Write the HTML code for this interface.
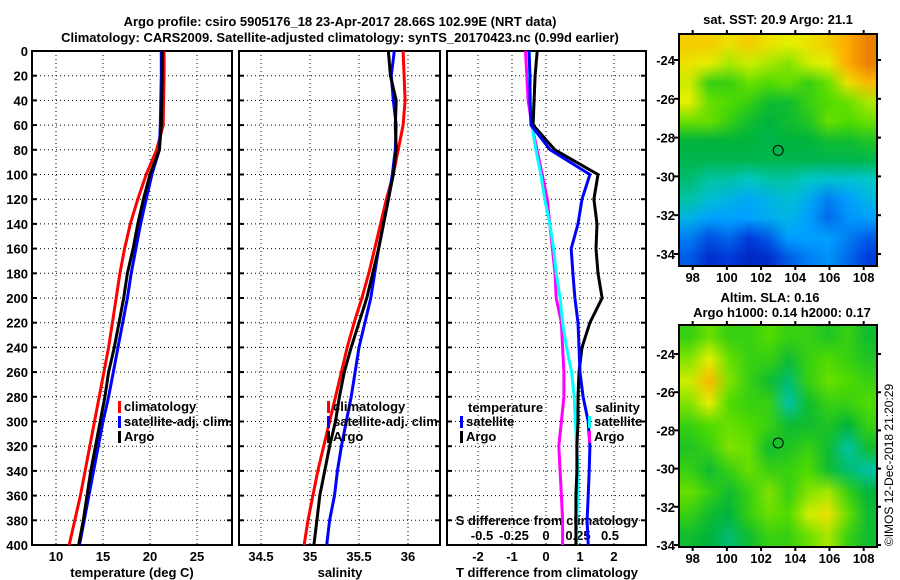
<!DOCTYPE html>
<html><head><meta charset="utf-8">
<style>
body{margin:0;background:#fff;width:900px;height:580px;overflow:hidden;font-family:"Liberation Sans",sans-serif;}
svg text{font-family:"Liberation Sans",sans-serif;font-weight:bold;font-size:13px;fill:#000;}
canvas{position:absolute;image-rendering:auto;}
</style></head><body>
<svg id="s" width="900" height="580" style="position:absolute;left:0;top:0"></svg>
<canvas id="m1" width="10" height="12" style="left:679px;top:34px;width:198px;height:232px"></canvas>
<canvas id="m2" width="10" height="10" style="left:679px;top:325px;width:198px;height:222px"></canvas>
<svg id="o" width="900" height="580" style="position:absolute;left:0;top:0"></svg>
<script>
const depths=[0,20,40,60,80,100,120,140,160,180,200,220,240,260,280,300,320,340,360,380,400];
const tempClim=[21.5,21.5,21.45,21.4,20.7,19.6,18.7,17.9,17.3,16.8,16.4,16.0,15.6,15.1,14.6,14.1,13.6,13.1,12.6,12.0,11.4];
const tempSat=[21.2,21.2,21.15,21.1,21.0,20.2,19.6,19.0,18.5,18.0,17.6,17.1,16.6,16.1,15.6,15.0,14.5,14.0,13.5,13.0,12.5];
const tempArgo=[21.3,21.3,21.25,21.2,21.0,20.0,19.3,18.7,18.2,17.6,17.2,16.7,16.2,15.6,15.2,14.7,14.2,13.7,13.3,12.9,12.4];
const salClim=[35.95,35.96,35.97,35.95,35.9,35.85,35.78,35.72,35.66,35.6,35.53,35.45,35.38,35.32,35.26,35.2,35.14,35.08,35.03,34.98,34.94];
const salSat=[35.86,35.83,35.85,35.88,35.87,35.84,35.8,35.75,35.7,35.66,35.62,35.56,35.5,35.46,35.42,35.37,35.32,35.28,35.25,35.2,35.17];
const salArgo=[35.8,35.82,35.88,35.87,35.88,35.85,35.8,35.75,35.7,35.64,35.58,35.5,35.42,35.35,35.3,35.26,35.2,35.15,35.1,35.07,35.04];
const dTSat=[-0.5,-0.47,-0.47,-0.44,0.12,1.29,1.06,0.94,0.74,0.79,0.85,0.94,0.97,1.0,1.09,1.24,1.29,1.27,1.24,1.21,1.24];
const dTArgo=[-0.26,-0.32,-0.35,-0.38,0.26,1.53,1.41,1.5,1.47,1.53,1.65,1.29,1.06,0.97,0.94,0.94,0.91,0.91,0.88,0.88,0.88];
const dSSat=[-0.13,-0.13,-0.12,-0.11,-0.08,-0.04,-0.01,0.03,0.06,0.08,0.11,0.13,0.16,0.2,0.22,0.23,0.24,0.25,0.25,0.24,0.24];
const dSArgo=[-0.16,-0.15,-0.14,-0.11,-0.07,-0.03,0.01,0.03,0.05,0.07,0.08,0.12,0.13,0.14,0.14,0.12,0.1,0.11,0.12,0.13,0.13];
const depthTicks=[0,20,40,60,80,100,120,140,160,180,200,220,240,260,280,300,320,340,360,380,400];
const tempTicks=[10,15,20,25];
const salTicks=[34.5,35,35.5,36];
const dTTicks=[-2,-1,0,1,2];
const dSTicks=[-0.5,-0.25,0,0.25,0.5];
const sstGrid=[
[.75,.75,.72,.75,.72,.7,.72,.75,.8,.85],
[.72,.7,.65,.68,.65,.62,.68,.7,.8,.85],
[.68,.55,.55,.6,.58,.6,.55,.6,.72,.78],
[.7,.6,.58,.55,.5,.5,.55,.58,.6,.65],
[.6,.6,.55,.5,.48,.5,.52,.6,.58,.6],
[.48,.48,.48,.48,.47,.48,.48,.5,.5,.52],
[.47,.47,.47,.47,.47,.47,.47,.47,.47,.47],
[.45,.42,.42,.4,.42,.42,.4,.38,.38,.4],
[.42,.38,.35,.32,.35,.38,.33,.25,.3,.35],
[.35,.3,.3,.3,.33,.35,.3,.22,.28,.3],
[.25,.18,.22,.15,.2,.3,.3,.3,.25,.2],
[.2,.12,.15,.1,.12,.2,.25,.28,.22,.15]];
const slaGrid=[
[.55,.6,.55,.55,.58,.55,.55,.52,.55,.5],
[.62,.7,.6,.55,.55,.5,.55,.58,.55,.52],
[.68,.78,.62,.55,.5,.45,.55,.6,.58,.55],
[.62,.7,.58,.55,.55,.42,.5,.55,.55,.58],
[.55,.58,.6,.58,.55,.5,.5,.52,.48,.55],
[.52,.55,.62,.6,.5,.52,.55,.5,.42,.5],
[.55,.5,.55,.6,.55,.55,.58,.5,.45,.42],
[.6,.55,.5,.55,.62,.55,.62,.65,.55,.48],
[.55,.5,.48,.55,.6,.58,.68,.72,.6,.5],
[.5,.48,.45,.5,.55,.55,.6,.65,.55,.5]];
const lonTicks=[98,100,102,104,106,108];
const latTicks1=[-24,-26,-28,-30,-32,-34];
const latTicks2=[-24,-26,-28,-30,-32,-34];
const argoLon=103.0, argoLat=-28.66;

const NS="http://www.w3.org/2000/svg";
const S=document.getElementById('s'), O=document.getElementById('o');
function el(p,t,a){const e=document.createElementNS(NS,t);for(const k in a)e.setAttribute(k,a[k]);p.appendChild(e);return e;}
function tx(p,x,y,s,anchor,name){const e=el(p,'text',{x:x,y:y,'text-anchor':anchor||'start'});e.textContent=s;

return e;}
const y0=51,y1=545;
const yD=d=>y0+(d/400)*(y1-y0);
const xT=v=>56+(v-10)*9.4;
const xS=v=>261+(v-34.5)*98;
const xDT=v=>546+v*34;
const xDS=v=>546+v*128;
const panels=[[32,232],[239,440],[447,646]];

tx(S,340,26,"Argo profile: csiro 5905176_18 23-Apr-2017 28.66S 102.99E (NRT data)","middle","title-line-1");
tx(S,340,42,"Climatology: CARS2009. Satellite-adjusted climatology: synTS_20170423.nc (0.99d earlier)","middle","title-line-2");

function grid(px,xf,ticks){
  ticks.forEach(t=>{const x=xf(t);const l=el(S,'line',{x1:x,x2:x,y1:y0,y2:y1,stroke:'#000','stroke-dasharray':'1,3','stroke-width':1});
  
  });
  depthTicks.forEach(d=>{const y=yD(d);const l=el(S,'line',{x1:px[0],x2:px[1],y1:y,y2:y,stroke:'#000','stroke-dasharray':'1,3','stroke-width':1});
  
  });
}
grid(panels[0],xT,tempTicks);grid(panels[1],xS,salTicks);grid(panels[2],xDT,dTTicks);
panels.forEach((p,i)=>{const r=el(S,'rect',{x:p[0],y:y0,width:p[1]-p[0],height:y1-y0,fill:'none',stroke:'#000','stroke-width':2});


depthTicks.forEach(d=>{el(S,'line',{x1:p[0],x2:p[0]+5,y1:yD(d),y2:yD(d),stroke:'#000','stroke-width':2});el(S,'line',{x1:p[1]-5,x2:p[1],y1:yD(d),y2:yD(d),stroke:'#000','stroke-width':2});});});
depthTicks.forEach(d=>tx(S,28,yD(d)+5,String(d),'end','depth-tick-label'));
tempTicks.forEach(t=>tx(S,xT(t),561,String(t),'middle','temp-tick-label'));
salTicks.forEach(t=>tx(S,xS(t),561,String(t),'middle','sal-tick-label'));
dTTicks.forEach(t=>tx(S,xDT(t),561,String(t),'middle','dt-tick-label'));
dSTicks.forEach(t=>tx(S,xDS(t),540,String(t).replace('0.','0.').replace('-0.','-0.'),'middle','ds-tick-label'));
tx(S,132,577,"temperature (deg C)","middle","temp-axis-title");
tx(S,340,577,"salinity","middle","sal-axis-title");
tx(S,547,577,"T difference from climatology","middle","dt-axis-title");
tx(S,547,525,"S difference from climatology","middle","ds-axis-title");

function line(vals,xf,color,name){
  const pts=vals.map((v,i)=>xf(v).toFixed(1)+','+yD(depths[i]).toFixed(1)).join(' ');
  const p=el(S,'polyline',{points:pts,fill:'none',stroke:color,'stroke-width':3});
  
  
}
line(tempClim,xT,'#f00','temp-climatology-line');
line(tempSat,xT,'#00f','temp-satellite-line');
line(tempArgo,xT,'#000','temp-argo-line');
line(salClim,xS,'#f00','sal-climatology-line');
line(salSat,xS,'#00f','sal-satellite-line');
line(salArgo,xS,'#000','sal-argo-line');
line(dSArgo,xDS,'#f0f','ds-argo-line');
line(dSSat,xDS,'#0ff','ds-satellite-line');
line(dTArgo,xDT,'#000','dt-argo-line');
line(dTSat,xDT,'#00f','dt-satellite-line');

function leg(x,y,c,label,name){const r=el(S,'rect',{x:x,y:y-10,width:3,height:12,fill:c});


tx(S,x+6,y,label,'start',name);}
[[118,'climatology'],[327,'climatology']].forEach(a=>{const x=a[0];
leg(x,411,'#f00','climatology','legend-climatology');leg(x,426,'#00f','satellite-adj. clim.','legend-satellite-adj');leg(x,441,'#000','Argo','legend-argo');});
tx(S,468,412,"temperature",'start','legend-temperature-header');
leg(460,426,'#00f','satellite','legend-t-satellite');leg(460,441,'#000','Argo','legend-t-argo');
tx(S,595,412,"salinity",'start','legend-salinity-header');
leg(588,426,'#0ff','satellite','legend-s-satellite');leg(588,441,'#f0f','Argo','legend-s-argo');

// maps
function cmap(v){const stops=[[0,[0,0,140]],[0.15,[0,60,220]],[0.3,[0,160,255]],[0.4,[0,200,200]],[0.48,[0,180,60]],[0.58,[80,220,0]],[0.7,[230,240,0]],[0.8,[255,170,0]],[1,[180,0,0]]];
for(let i=1;i<stops.length;i++){if(v<=stops[i][0]){const a=stops[i-1],b=stops[i],f=(v-a[0])/(b[0]-a[0]);return a[1].map((c,k)=>Math.round(c+(b[1][k]-c)*f));}}return stops[stops.length-1][1];}
function paint(id,g){const c=document.getElementById(id),x=c.getContext('2d');g.forEach((row,r)=>row.forEach((v,k)=>{const col=cmap(v);x.fillStyle='rgb('+col.join(',')+')';x.fillRect(k,r,1,1);}));}
paint('m1',sstGrid);paint('m2',slaGrid);
const mx=lon=>679+(lon-97.2)*17.1;
const m1y=lat=>60+(-24-lat)*19.4, m2y=lat=>354+(-24-lat)*19.1;
tx(O,778,24,"sat. SST: 20.9 Argo: 21.1","middle","sst-map-title");
tx(O,770,302,"Altim. SLA: 0.16","middle","sla-map-title-1");
tx(O,782,317,"Argo h1000: 0.14 h2000: 0.17","middle","sla-map-title-2");
[[34,266,m1y,latTicks1,'sst'],[325,547,m2y,latTicks2,'sla']].forEach(m=>{
  const r=el(O,'rect',{x:679,y:m[0],width:198,height:m[1]-m[0],fill:'none',stroke:'#000','stroke-width':2});
  
  
  m[3].forEach(l=>{const y=m[2](l);el(O,'line',{x1:674,x2:679,y1:y,y2:y,stroke:'#000','stroke-width':2});el(O,'line',{x1:877,x2:881,y1:y,y2:y,stroke:'#000','stroke-width':2});tx(O,675,y+5,String(l),'end',m[4]+'-lat-label');});
  lonTicks.forEach(l=>{const x=mx(l);el(O,'line',{x1:x,x2:x,y1:m[1],y2:m[1]+4,stroke:'#000','stroke-width':2});el(O,'line',{x1:x,x2:x,y1:m[0]-4,y2:m[0],stroke:'#000','stroke-width':2});tx(O,x,m[1]+16,String(l),'middle',m[4]+'-lon-label');});
  const c=el(O,'circle',{cx:mx(argoLon),cy:m[2](argoLat),r:5,fill:'none',stroke:'#000','stroke-width':1});
  
  
});
const cp=tx(O,0,0,"©IMOS 12-Dec-2018 21:20:29","middle","copyright");
cp.setAttribute('transform','translate(893,465) rotate(-90)');
cp.setAttribute('style','font-size:12px;font-weight:normal');
</script>
</body></html>
